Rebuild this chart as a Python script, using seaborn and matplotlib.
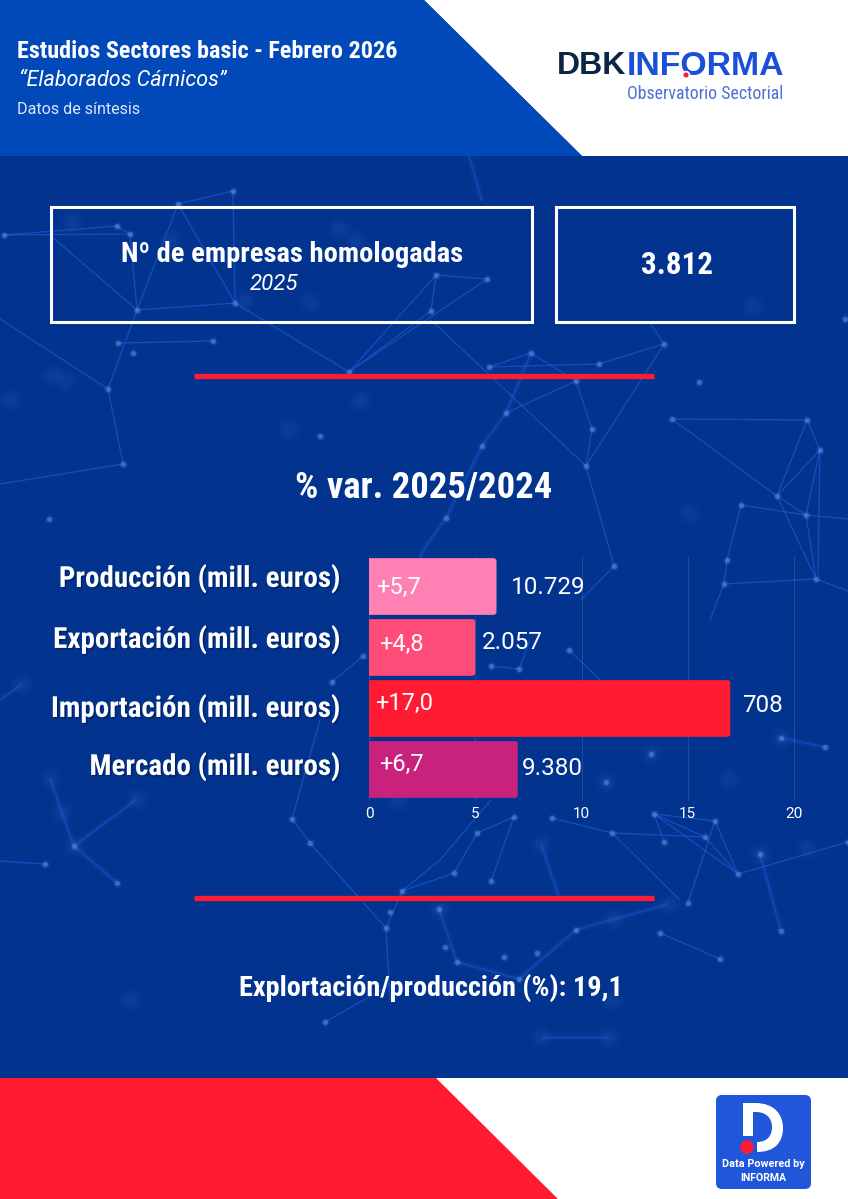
import matplotlib
matplotlib.use("Agg")
import logging
import matplotlib.pyplot as plt
import matplotlib.patheffects as pe
from matplotlib.collections import LineCollection
from matplotlib.patches import Circle, FancyBboxPatch, PathPatch, Polygon, Rectangle
from matplotlib.path import Path as MplPath
import pandas as pd
import seaborn as sns

logging.getLogger("matplotlib.font_manager").setLevel(logging.ERROR)

# chart values
categorias = ["Producción (mill. euros)", "Exportación (mill. euros)",
              "Importación (mill. euros)", "Mercado (mill. euros)"]
largo_barra = [6, 5, 17, 7]
etiqueta_var = ["+5,7", "+4,8", "+17,0", "+6,7"]
etiqueta_valor = ["10.729", "2.057", "708", "9.380"]
colores = ["#FF80B2", "#FF4B77", "#FF1C33", "#C9227D"]
ticks_x = [0, 5, 10, 15, 20]

# fine placement of the labels, pixels relative to the bar centre / end
dy_categoria = [8, 8, 0, 3]
dy_var = [-1, 3, 5, 5]
dx_var = [7, 10, 6, 10]
dx_valor = [14, 7, 12, 4]
dy_valor = [-1, 5, 3, 1]

# background network in pixels
redes_finas = [
    [(4, 235), (117, 226), (130, 234), (137, 310), (108, 389), (123, 464), (0, 484)],
    [(4, 235), (130, 234)],
    [(50, 235), (137, 310), (235, 303), (349, 372)],
    [(0, 319), (108, 389)],
    [(178, 204), (233, 191), (235, 303), (178, 204), (137, 310)],
    [(118, 343), (213, 341)],
    [(349, 372), (436, 275), (431, 311), (349, 372), (487, 279), (436, 275)],
    [(489, 367), (599, 364), (664, 344), (649, 321)],
    [(531, 353), (489, 367)],
    [(531, 353), (576, 381), (592, 429), (586, 466)],
    [(431, 320), (586, 466), (664, 344)],
    [(586, 466), (614, 566), (581, 600)],
    [(576, 381), (506, 413)],
    [(672, 419), (807, 420), (820, 450), (777, 496), (807, 420)],
    [(672, 419), (777, 496), (806, 515), (816, 579), (777, 496)],
    [(820, 450), (806, 515)],
    [(741, 505), (806, 515), (848, 519)],
    [(741, 505), (727, 560), (724, 584), (710, 620)],
    [(724, 584), (816, 579), (848, 591)],
    [(820, 450), (818, 575)],
    [(569, 650), (600, 680)],
    [(491, 666), (519, 669), (530, 640)],
    [(332, 682), (363, 656)],
    [(292, 819), (310, 843), (386, 928), (402, 891), (440, 860), (491, 800)],
    [(386, 928), (390, 1000)],
    [(292, 819), (320, 720)],
    [(514, 817), (477, 833), (454, 873), (402, 891)],
    [(514, 817), (491, 881)],
    [(552, 818), (612, 833), (705, 837), (654, 814), (664, 842)],
    [(654, 814), (738, 874), (715, 821), (688, 903)],
    [(612, 833), (680, 900)],
    [(705, 837), (738, 874), (848, 842)],
    [(654, 814), (715, 821)],
    [(660, 933), (720, 959)],
    [(325, 1022), (390, 985)],
    [(45, 864), (0, 861)],
]
redes_gruesas = [
    [(469, 156), (482, 201)],
    [(531, 353), (506, 413), (482, 446), (446, 518), (424, 549), (405, 590)],
    [(74, 846), (137, 799)],
    [(50, 778), (62, 813), (74, 846), (117, 883)],
    [(760, 854), (781, 931)],
    [(457, 962), (519, 979), (576, 930), (614, 919), (669, 904)],
    [(439, 909), (457, 962)],
    [(781, 738), (825, 747)],
    [(541, 1037), (609, 1037)],
    [(0, 700), (22, 684)],
    [(541, 844), (560, 900)],
]
nodos = [(4, 235), (117, 226), (130, 234), (137, 310), (108, 389), (123, 464), (178, 204),
         (233, 191), (235, 303), (349, 372), (213, 341), (118, 343), (133, 353), (320, 436),
         (49, 519), (436, 275), (487, 279), (431, 311), (531, 353), (489, 367), (599, 364),
         (664, 344), (576, 381), (506, 413), (592, 429), (482, 446), (586, 466), (614, 566),
         (446, 518), (672, 419), (807, 420), (820, 450), (777, 496), (806, 515), (741, 505),
         (727, 560), (816, 579), (724, 584), (699, 382), (845, 319), (569, 650), (491, 666),
         (519, 669), (363, 656), (332, 682), (292, 819), (310, 843), (386, 928), (402, 891),
         (390, 912), (45, 864), (117, 883), (74, 846), (325, 1022), (514, 817), (552, 818),
         (477, 833), (454, 873), (491, 881), (612, 833), (654, 814), (664, 842), (705, 837),
         (715, 821), (738, 874), (760, 854), (781, 931), (688, 903), (660, 933), (720, 959),
         (781, 738), (825, 747), (651, 754), (606, 782), (576, 930), (537, 953), (457, 962),
         (439, 909), (445, 947), (504, 957), (519, 979), (848, 842)]
manchas = [(72, 222), (170, 240), (339, 229), (310, 302), (245, 300), (355, 240), (52, 375),
           (10, 400), (65, 380), (289, 429), (753, 306), (689, 513), (22, 684), (137, 799),
           (74, 846), (62, 813), (50, 778), (781, 738), (729, 779), (807, 848), (760, 854),
           (669, 904), (614, 919), (541, 844), (439, 909), (541, 1037), (609, 1037),
           (606, 782), (651, 754), (130, 1000), (360, 400), (398, 800), (612, 1000)]

FONDO = "#02348F"
CABECERA = "#0148B8"
ROJO = "#FF1C33"
ESTRECHA = ["Roboto Condensed", "Liberation Sans Narrow", "Roboto"]
TEXTO = ["Roboto", "DejaVu Sans"]

sns.set_theme(style="white")
plt.rcParams["font.family"] = TEXTO

fig = plt.figure(figsize=(8.48, 11.99), dpi=100, facecolor=FONDO)

# page layer in pixel coordinates
fondo = fig.add_axes([0, 0, 1, 1], zorder=0)
fondo.set_xlim(0, 848)
fondo.set_ylim(1199, 0)
fondo.axis("off")

fondo.add_collection(LineCollection(redes_gruesas, colors="#2466E6", linewidths=5, alpha=0.07, zorder=1))
fondo.add_collection(LineCollection(redes_gruesas, colors="#2466E6", linewidths=1.8, alpha=0.30, zorder=1))
fondo.add_collection(LineCollection(redes_finas, colors="#1F60E0", linewidths=0.9, alpha=0.60, zorder=1))
# soft spots, stacked so the edge fades out
for tam, alfa in [(300, 0.035), (170, 0.05), (80, 0.07)]:
    fondo.scatter(*zip(*manchas), s=tam, color="#3F78DC", alpha=alfa, linewidths=0, zorder=1)
fondo.scatter(*zip(*nodos), s=40, color="#5F8FE6", alpha=0.12, linewidths=0, zorder=1)
fondo.scatter(*zip(*nodos), s=14, color="#5F8FE6", alpha=0.55, linewidths=0, zorder=1)

# header and footer shapes
fondo.add_patch(Polygon([(424, 0), (848, 0), (848, 156), (582, 156)], color="white", lw=0, zorder=2))
fondo.add_patch(Polygon([(0, 0), (424, 0), (582, 156), (0, 156)], color=CABECERA, lw=0, zorder=2))
fondo.add_patch(Rectangle((0, 1078), 848, 121, color="white", lw=0, zorder=2))
fondo.add_patch(Polygon([(0, 1078), (436, 1078), (558, 1199), (0, 1199)], color=ROJO, lw=0, zorder=2))

fondo.text(17, 52, "Estudios Sectores basic - Febrero 2026", family=ESTRECHA, weight="bold",
           fontsize=17.4, color="white", va="center", zorder=3)
fondo.text(19, 81, "“Elaborados Cárnicos”", family=TEXTO, style="italic", fontsize=15.5,
           color="white", va="center", zorder=3)
fondo.text(17, 110, "Datos de síntesis", family=TEXTO, fontsize=11.6, color="#DCE8FF", va="center", zorder=3)

# DBK Informa logo
fondo.text(557, 66.5, "DBK", family="Liberation Sans", weight="bold", fontsize=23, color="#0B2545",
           va="center", zorder=3)
fondo.text(627, 66.5, "INFORMA", family="Liberation Sans", weight="bold", fontsize=24.3, color="#1A4FD8",
           va="center", zorder=3)
fondo.add_patch(Circle((686, 75), 3.4, fc=ROJO, ec="white", lw=1.2, zorder=4))
fondo.text(783, 94, "Observatorio Sectorial", family=ESTRECHA, fontsize=12.8, color="#4F6FD8",
           ha="right", va="center", zorder=3)

# summary boxes
for x0, x1 in [(51, 532), (555.5, 793.5)]:
    fondo.add_patch(Rectangle((x0, 207), x1 - x0, 115, fill=False, ec="white", lw=2.2, zorder=3))
fondo.text(292, 255, "Nº de empresas homologadas", family=ESTRECHA, weight="bold", fontsize=20.5,
           color="white", ha="center", va="center", zorder=3)
fondo.text(274, 285, "2025", family=TEXTO, style="italic", fontsize=16,
           color="white", ha="center", va="center", zorder=3)
fondo.text(677, 265, "3.812", family=ESTRECHA, weight="bold", fontsize=22.4, color="white",
           ha="center", va="center", zorder=3)

for y in [376, 898]:
    fondo.plot([193.5, 654], [y, y], color=ROJO, lw=3.8, solid_capstyle="butt", zorder=3)

fondo.text(424, 487, "% var. 2025/2024", family=ESTRECHA, weight="bold", fontsize=26.4, color="white",
           ha="center", va="center", zorder=3)
fondo.text(431, 988, "Explortación/producción (%): 19,1", family=ESTRECHA, weight="bold", fontsize=20.3,
           color="white", ha="center", va="center", zorder=3)

# Data Powered by badge
fondo.add_patch(FancyBboxPatch((720, 1099), 87, 86, boxstyle="round,pad=4,rounding_size=6",
                               fc="#1F56DA", ec="none", zorder=3))
L, C, M = MplPath.LINETO, MplPath.CURVE4, MplPath.MOVETO
trazo_d = [(743, 1103), (755, 1103),
           (775, 1103), (783, 1115), (783, 1128),
           (783, 1142), (775, 1152), (757, 1152),
           (757, 1142),
           (767, 1142), (772, 1136), (772, 1127),
           (772, 1118), (766, 1112), (756, 1112),
           (753, 1112), (753, 1136), (743, 1136), (743, 1103)]
codigos_d = [M, L, C, C, C, C, C, C, L, C, C, C, C, C, C, L, L, L, MplPath.CLOSEPOLY]
fondo.add_patch(PathPatch(MplPath(trazo_d, codigos_d), fc="white", ec="none", zorder=4))
fondo.add_patch(Circle((747, 1147), 6.8, color=ROJO, lw=0, zorder=5))
fondo.text(763, 1164, "Data Powered by", family=TEXTO, weight="bold", fontsize=7.8, color="white",
           ha="center", va="center", zorder=4)
fondo.text(763, 1178, "INFORMA", family=TEXTO, weight="bold", fontsize=7.6, color="white",
           ha="center", va="center", zorder=4)

# bar chart
df = pd.DataFrame({"categoria": categorias, "var": largo_barra})
ax = fig.add_axes([369 / 848, 1 - 800 / 1199, 425 / 848, 244 / 1199], zorder=2)
ax.patch.set_alpha(0)
sns.barplot(data=df, x="var", y="categoria", hue="categoria", palette=colores, width=0.93,
            saturation=1, legend=False, ax=ax)
ax.set_xlim(0, 20)
ax.set_xticks(ticks_x)
ax.set_xlabel("")
ax.set_ylabel("")
ax.set_yticks([])
sns.despine(ax=ax, left=True, bottom=True)
ax.grid(axis="x", color="white", alpha=0.12, lw=0.7, clip_on=False)
ax.set_axisbelow(True)
ax.tick_params(axis="x", length=0, pad=5, labelsize=11, labelcolor="white")

# right corners rounded, same geometry as the bars seaborn drew
for barra in list(ax.patches):
    x, y, w, h = barra.get_x(), barra.get_y(), barra.get_width(), barra.get_height()
    color = barra.get_facecolor()
    barra.set_visible(False)
    ax.add_patch(FancyBboxPatch((x - 0.5, y), w + 0.5, h, boxstyle="round,pad=0,rounding_size=0.14",
                                mutation_aspect=0.35, fc=color, ec="none", zorder=3))

sombra = [pe.withSimplePatchShadow(offset=(1.2, -1.2), shadow_rgbFace="#001A55", alpha=0.6)]
for i, nombre in enumerate(categorias):
    ax.annotate(nombre, xy=(0, i), xytext=(-29, dy_categoria[i]), textcoords="offset pixels",
                family=ESTRECHA, weight="bold", fontsize=20.9, color="white", ha="right", va="center",
                annotation_clip=False, path_effects=sombra, zorder=5)
    ax.annotate(etiqueta_var[i], xy=(0, i), xytext=(dx_var[i], dy_var[i]), textcoords="offset pixels",
                fontsize=17, color="white", ha="left", va="center", zorder=5)
    ax.annotate(etiqueta_valor[i], xy=(largo_barra[i], i), xytext=(dx_valor[i], dy_valor[i]),
                textcoords="offset pixels", fontsize=17.5, color="white", ha="left", va="center",
                annotation_clip=False, zorder=5)

fig.savefig("out.png", dpi=100, facecolor=fig.get_facecolor())
plt.close(fig)
